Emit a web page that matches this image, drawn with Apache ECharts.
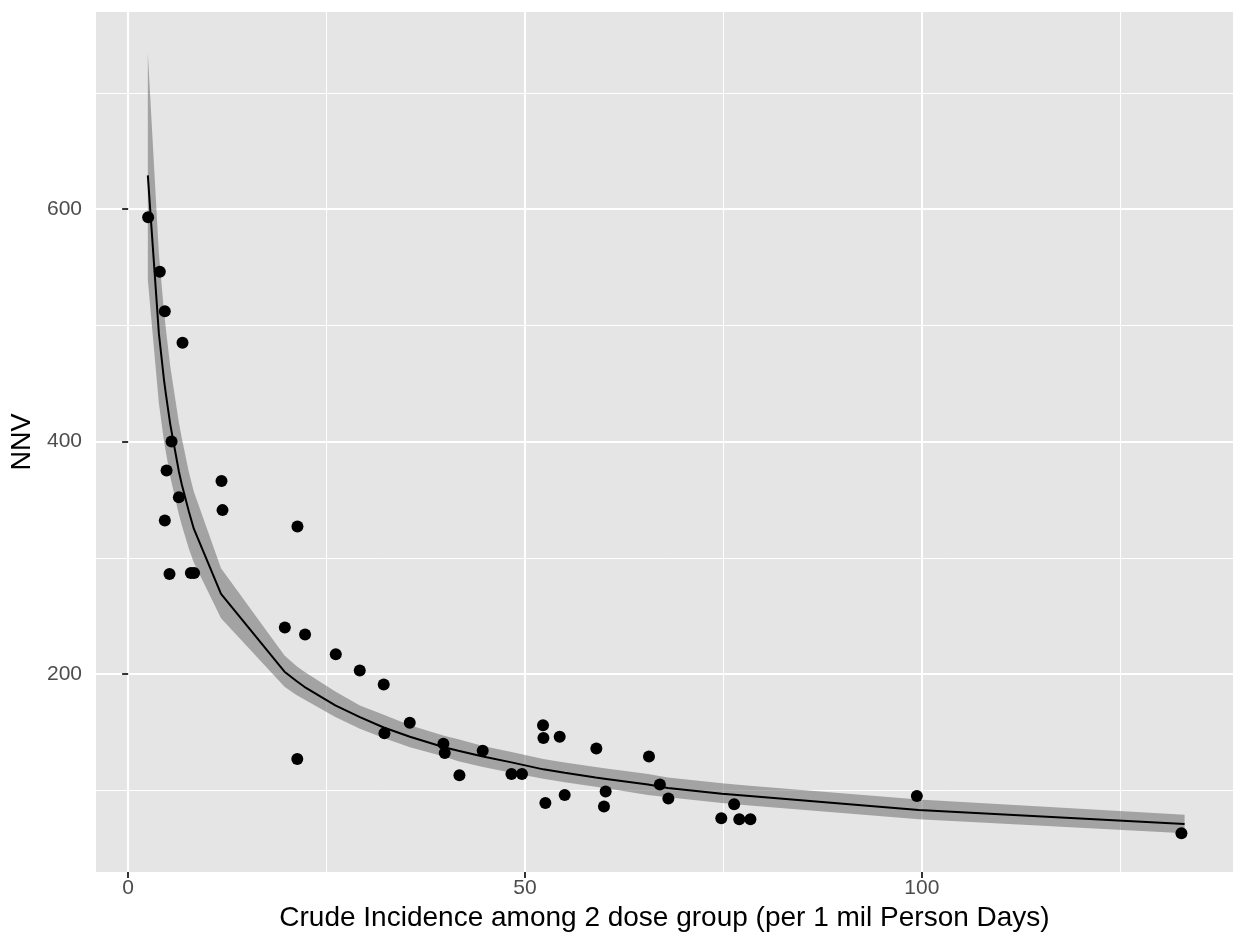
<!DOCTYPE html>
<html>
<head>
<meta charset="utf-8">
<script src="https://cdn.jsdelivr.net/npm/echarts@6/dist/echarts.min.js"></script>
<style>
  html, body { margin: 0; padding: 0; background: #fff; }
  #main { width: 1233px; height: 940px; }
</style>
</head>
<body>
<div id="main"></div>
<script>
// observed points (crude incidence, NNV)
var pointX = [2.52, 3.99, 4.62, 6.85, 5.47, 4.84, 6.39, 4.62, 11.76, 11.89, 21.33, 5.21, 7.9, 8.31,
  19.74, 22.29, 21.31, 26.16, 29.18, 32.2, 32.29, 35.48, 39.72, 39.89, 41.74, 44.67, 48.29, 49.62,
  52.27, 52.32, 54.37, 52.57, 55.0, 58.99, 60.16, 59.95, 65.62, 66.99, 68.06, 76.35, 74.73, 77.0,
  78.4, 99.37, 132.7];
var pointY = [593, 546, 512, 485, 400, 375, 352, 332, 366, 341, 327, 286, 287, 287,
  240, 234, 127, 217, 203, 191, 149, 158, 140, 132, 113, 134, 114, 114,
  156, 145, 146, 89, 96, 136, 99, 86, 129, 105, 93, 88, 76, 75,
  75, 95, 63];

// fitted curve and its confidence band
var fitX = [2.48, 3.87, 4.5, 4.75, 5.3, 6.4, 6.76, 7.64, 8.27, 11.7, 19.7, 21.2, 22.2, 26.1, 29.2,
  32.2, 35.5, 39.8, 41.6, 44.7, 48.3, 52.3, 55.0, 58.9, 60.0, 65.5, 68.0, 74.8, 78.3, 99.6, 133.1];
var fitY = [629, 493, 454, 441, 415, 374, 363, 340, 325, 269, 202, 194, 189, 173, 163,
  154, 146, 137, 134, 129, 124, 118, 115, 111, 110, 105, 102, 97, 95, 83, 71];
var fitLow = [539, 433, 401, 391, 370, 337, 328, 308, 296, 248, 189, 182, 178, 163, 153,
  145, 137, 129, 125, 120, 115, 110, 107, 103, 102, 96, 94, 89, 87, 75, 63];
var fitHigh = [734, 562, 513, 497, 465, 416, 403, 374, 357, 291, 216, 207, 202, 185, 173,
  165, 156, 147, 144, 138, 133, 127, 124, 120, 119, 114, 111, 106, 104, 92, 79];

var xTicks = [0, 50, 100];
var yTicks = [200, 400, 600];

var chart = echarts.init(document.getElementById('main'));

var font = "'Liberation Sans', Arial, sans-serif";

chart.setOption({
  animation: false,
  grid: {
    left: 96, right: 0, top: 12, bottom: 68,
    show: true, backgroundColor: '#e5e5e5', borderWidth: 0
  },
  xAxis: {
    type: 'value',
    min: -4.05, max: 139.2,
    splitNumber: 3,
    name: 'Crude Incidence among 2 dose group (per 1 mil Person Days)',
    nameLocation: 'middle',
    nameGap: 28,
    nameTextStyle: { color: '#000', fontSize: 28, fontFamily: font },
    axisLine: { show: false },
    axisTick: { show: true, length: 6, customValues: xTicks, lineStyle: { color: '#333', width: 2 } },
    axisLabel: { customValues: xTicks, margin: 6, color: '#4d4d4d', fontSize: 21, fontFamily: font },
    splitLine: { show: true, lineStyle: { color: '#fff', width: 2 } },
    minorTick: { show: false, splitNumber: 2 },
    minorSplitLine: { show: true, lineStyle: { color: '#fff', width: 1 } }
  },
  yAxis: {
    type: 'value',
    min: 29.7, max: 769.5,
    splitNumber: 4,
    name: 'NNV',
    nameLocation: 'middle',
    nameGap: 57,
    nameTextStyle: { color: '#000', fontSize: 27, fontFamily: font },
    axisLine: { show: false },
    axisTick: { show: true, length: 6, customValues: yTicks, lineStyle: { color: '#333', width: 2 } },
    axisLabel: { customValues: yTicks, margin: 14, color: '#4d4d4d', fontSize: 21, fontFamily: font },
    splitLine: { show: true, lineStyle: { color: '#fff', width: 2 } },
    minorTick: { show: false, splitNumber: 2 },
    minorSplitLine: { show: true, lineStyle: { color: '#fff', width: 1 } }
  },
  series: [
    {
      type: 'custom',
      coordinateSystem: 'cartesian2d',
      clip: true,
      silent: true,
      z: 2,
      data: fitX.map(function (x, i) { return [x, fitLow[i], fitHigh[i]]; }),
      encode: { x: 0, y: [1, 2] },
      renderItem: function (params, api) {
        if (params.dataIndex !== 0) return;
        var pts = [];
        for (var i = 0; i < fitX.length; i++) pts.push(api.coord([fitX[i], fitHigh[i]]));
        for (var j = fitX.length - 1; j >= 0; j--) pts.push(api.coord([fitX[j], fitLow[j]]));
        return { type: 'polygon', shape: { points: pts }, style: { fill: 'rgba(110,110,110,0.55)' } };
      }
    },
    {
      type: 'line',
      data: fitX.map(function (x, i) { return [x, fitY[i]]; }),
      showSymbol: false,
      symbol: 'none',
      lineStyle: { color: '#000', width: 2 },
      z: 3
    },
    {
      type: 'scatter',
      data: pointX.map(function (x, i) { return [x, pointY[i]]; }),
      symbolSize: 12,
      itemStyle: { color: '#000', opacity: 1 },
      z: 4
    }
  ]
});
</script>
</body>
</html>
